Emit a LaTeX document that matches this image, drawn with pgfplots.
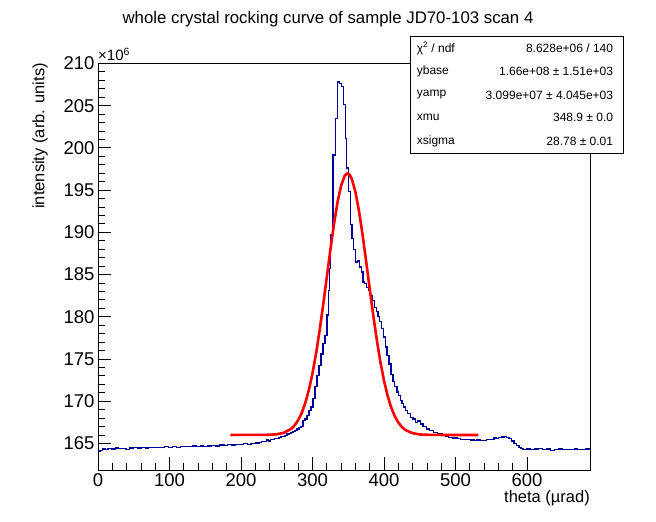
\documentclass[border=0pt]{standalone}
\usepackage{pgfplots}
\pgfplotsset{compat=1.18}
\usepackage{fontspec}
\setmainfont{Liberation Sans}
\definecolor{rootblue}{rgb}{0,0,0.6}
\begin{document}
\begin{tikzpicture}[x=1pt,y=1pt]
\path[use as bounding box] (-98,-52) rectangle (558,470);
\begin{axis}[
 at={(0,0)}, anchor=south west,
 width=492pt, height=407pt, scale only axis,
 xmin=0, xmax=688, ymin=161.85, ymax=210.05,
 xtick={0,100,...,600}, ytick={165,170,...,210},
 minor x tick num=4, minor y tick num=4,
 xtick pos=bottom, ytick pos=left, tick align=inside,
 major tick length=13pt, minor tick length=7pt,
 every tick/.style={black, line width=0.8pt},
 axis line style={line width=0.9pt},
 /pgf/number format/assume math mode=true,
 ticklabel style={font=\fontsize{18.5}{20}\selectfont},
 scaled y ticks=false,
]
\addplot[const plot mark left, rootblue, line width=1.3pt, mark=none] coordinates {
(0,164.05) (3,164.2) (6.5,164.35) (10,164.3) (14,164.4) (19,164.35) (24,164.45) (29,164.4) (34,164.4) (39,164.3)
(44,164.45) (50,164.5) (55,164.45) (60,164.5) (66,164.45) (71,164.55) (77,164.5) (82,164.55) (88,164.5) (93,164.6)
(99,164.55) (104,164.6) (110,164.55) (115,164.65) (121,164.6) (126,164.6) (132,164.7) (137,164.65) (143,164.7) (148,164.65)
(154,164.7) (159,164.75) (165,164.7) (170,164.8) (176,164.75) (181,164.85) (187,164.8) (192,164.9) (198,164.85) (203,164.95)
(209,164.9) (214,165.0) (220,165.05) (225,165.1) (229,165.2)
(233.3,165.25) (236.1,165.4) (238.9,165.3) (241.7,165.45) (244.5,165.5) (247.3,165.55) (250.1,165.6) (252.9,165.7)
(255.7,165.8) (258.5,165.85) (261.3,165.95) (264.1,166.1) (266.9,166.15) (269.7,166.3) (272.5,166.4) (275.3,166.55)
(278.1,166.7) (280.9,166.85) (283.7,167.0) (286.5,167.7) (289.3,167.9) (292.1,168.3) (294.9,168.9) (297.7,169.3)
(300.5,170.3) (303.3,171.7) (306.1,173.05) (308.9,174.2) (311.7,175.6) (314.5,176.8) (317.3,177.8) (320.1,180.2)
(322.0,183.1) (323.5,185.7) (324.7,189.7) (328.5,199.15) (332.2,203.5) (335.0,207.8) (337.8,207.6) (340.6,207.25)
(343.4,205.1) (345.8,201.1) (347.4,197.6) (350.0,194.8) (352.8,190.9) (355.3,189.3) (357.4,188.0) (359.8,186.5)
(363.0,186.6) (365.4,185.9) (368.2,185.3) (370.6,184.1) (372.8,183.9) (375.2,183.5) (378.4,183.1) (380.8,182.5)
(383.2,181.9) (386.4,181.1) (389.2,180.6) (391.6,180.0) (393.8,179.4) (396.2,178.6) (399.4,177.6) (401.8,176.4)
(404.2,175.4) (407.0,174.4) (409.8,173.2) (412.6,172.3) (414.9,171.7) (418.2,171.1) (420.5,170.7) (422.8,170.1)
(425.2,169.7) (427.5,169.3) (430.3,168.9) (433.1,168.5) (436.9,168.1) (440.6,167.9) (443.9,167.5) (447.1,167.65)
(450.9,167.3) (454.6,167.0) (459.3,166.7) (463.9,166.5) (468.7,166.3) (474.3,166.1) (481.3,165.9) (486,165.8)
(490.5,165.7) (496,165.65) (502.3,165.6) (507,165.5) (512,165.45) (517,165.5) (521,165.4) (525.6,165.34)
(530,165.4) (534,165.35) (539.6,165.35) (543,165.45) (546,165.5) (550,165.45) (553.6,165.65) (557,165.6)
(560,165.7) (564,165.75) (567.6,165.8) (571,165.7) (574.6,165.6) (578,165.3) (581.6,165.0) (585,164.75)
(588.6,164.55) (591.5,164.4) (594.3,164.27) (600,164.35) (605,164.3) (611,164.35) (616,164.4) (622,164.3)
(627,164.35) (633,164.2) (638,164.3) (644,164.35) (649,164.3) (655,164.25) (660,164.3) (666,164.35)
(671,164.3) (677,164.3) (682,164.35) (688,164.35)
};
\addplot[red, line width=2.6pt, mark=none] coordinates {
(185,166.00) (240,166.02) (250,166.08) (260,166.26) (270,166.72) (275,167.15) (280,167.76) (285,168.63)
(290,169.82) (295,171.37) (300,173.32) (305,175.68) (310,178.43) (315,181.49) (320,184.72) (325,187.95)
(330,190.98) (335,193.58) (340,195.54) (345,196.71) (348.9,196.99) (352,196.81) (355,196.30) (360,194.77)
(365,192.50) (370,189.69) (375,186.54) (380,183.28) (385,180.11) (390,177.18) (395,174.59) (400,172.41)
(405,170.64) (410,169.25) (415,168.22) (420,167.47) (425,166.94) (430,166.58) (440,166.21) (450,166.06)
(460,166.02) (480,166.00) (532,166.00)
};
\end{axis}
% x10^6
\node[anchor=south west, inner sep=0pt, font=\fontsize{15}{16}\selectfont] at (0,409) {×10\textsuperscript{6}};
% title
\node[font=\fontsize{16.8}{18}\selectfont] at (230,451) {whole crystal rocking curve of sample JD70-103 scan 4};
% axis labels
\node[rotate=90, anchor=east, inner sep=0pt, font=\fontsize{16.5}{18}\selectfont] at (-58,407) {intensity (arb. units)};
\node[anchor=east, inner sep=0pt, font=\fontsize{16.5}{18}\selectfont] at (492,-28) {theta (µrad)};
% stats box
\draw[fill=white, line width=0.9pt] (312,316.7) rectangle (525,434);
\begin{scope}[every node/.style={inner sep=0pt, font=\fontsize{12}{14}\selectfont}]
\node[anchor=west] at (318.7,421.7) {χ\textsuperscript{2} / ndf};
\node[anchor=east] at (515.3,421.7) {8.628e+06 / 140};
\node[anchor=west] at (318.7,398.3) {ybase};
\node[anchor=east] at (515.3,398.3) {1.66e+08 ± 1.51e+03};
\node[anchor=west] at (318.7,375) {yamp};
\node[anchor=east] at (515.3,375) {3.099e+07 ± 4.045e+03};
\node[anchor=west] at (318.7,352.7) {xmu};
\node[anchor=east] at (515.3,352.7) {348.9 ± 0.0};
\node[anchor=west] at (318.7,328.3) {xsigma};
\node[anchor=east] at (515.3,328.3) {28.78 ± 0.01};
\end{scope}
\end{tikzpicture}
\end{document}
